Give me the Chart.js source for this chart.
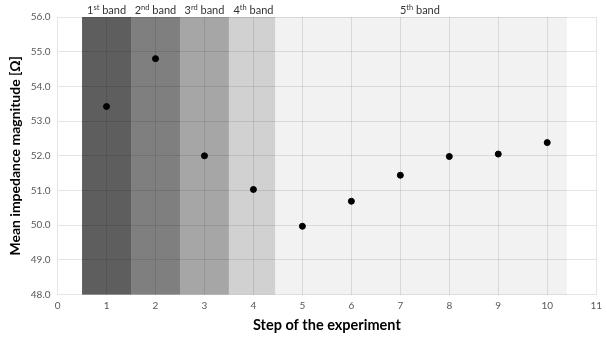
<!DOCTYPE html>
<html>
<head>
<meta charset="utf-8">
<script src="https://cdn.jsdelivr.net/npm/chart.js@4"></script>
<style>
  html, body { margin: 0; padding: 0; background: #fff; }
  #wrap { width: 607px; height: 337px; }
</style>
</head>
<body>
<div id="wrap"><canvas id="grafico" width="607" height="337"></canvas></div>
<script>
// steps and mean impedance values
const steps = [1, 2, 3, 4, 5, 6, 7, 8, 9, 10]
const impedance = [53.42, 54.8, 52.0, 51.03, 49.97, 50.69, 51.44, 51.98, 52.05, 52.38]

// shaded bands behind the points
const bandStart = [0.5, 1.5, 2.5, 3.5, 4.45]
const bandEnd = [1.5, 2.5, 3.5, 4.45, 10.4]
const bandLabelAt = [1, 2, 3, 4, 7.4]
const bandNum = ["1", "2", "3", "4", "5"]
const bandSup = ["st", "nd", "rd", "th", "th"]
const bandColors = ["#5e5e5e", "#7f7f7f", "#a6a6a6", "#d1d1d1", "#f2f2f2"]

const FONT = "Lato, 'Open Sans', sans-serif"

// bands painted before the grid, labels above the plot area
const bandas = {
    id: "bandas",
    beforeDraw(chart) {
        const ctx = chart.ctx
        const x = chart.scales.x
        const a = chart.chartArea
        ctx.save()
        for (let k = 0; k < bandStart.length; k++) {
            const x0 = x.getPixelForValue(bandStart[k])
            const x1 = x.getPixelForValue(bandEnd[k])
            ctx.fillStyle = bandColors[k]
            ctx.fillRect(x0, a.top, x1 - x0, a.bottom - a.top)
        }
        ctx.restore()
    },
    afterDraw(chart) {
        const ctx = chart.ctx
        const x = chart.scales.x
        const a = chart.chartArea
        ctx.save()
        ctx.fillStyle = "#333333"
        ctx.textBaseline = "alphabetic"
        for (let k = 0; k < bandStart.length; k++) {
            const cx = x.getPixelForValue(bandLabelAt[k])
            const big = "11px " + FONT
            const small = "7.5px " + FONT
            ctx.font = big
            const w1 = ctx.measureText(bandNum[k]).width
            const w3 = ctx.measureText(" band").width
            ctx.font = small
            const w2 = ctx.measureText(bandSup[k]).width
            let sx = cx - (w1 + w2 + w3) / 2
            const by = a.top - 3
            ctx.font = big
            ctx.fillText(bandNum[k], sx, by)
            ctx.font = small
            ctx.fillText(bandSup[k], sx + w1, by - 4)
            ctx.font = big
            ctx.fillText(" band", sx + w1 + w2, by)
        }
        ctx.restore()
    }
}

new Chart(document.getElementById("grafico"), {
    type: "scatter",
    data: {
        datasets: [{
            data: steps.map((s, i) => ({ x: s, y: impedance[i] })),
            backgroundColor: "#000000",
            borderColor: "#000000",
            pointRadius: 3,
            pointHoverRadius: 3
        }]
    },
    options: {
        responsive: false,
        animation: false,
        layout: { padding: { top: 17, right: 6, left: 7, bottom: 3 } },
        plugins: {
            legend: { display: false },
            tooltip: { enabled: false }
        },
        scales: {
            x: {
                type: "linear",
                min: 0,
                max: 11,
                ticks: { stepSize: 1, color: "#595959", font: { family: FONT, size: 10 }, padding: 5 },
                grid: { color: "rgba(0,0,0,0.1)", drawTicks: false },
                border: { display: false },
                title: { display: true, text: "Step of the experiment", color: "#000", font: { family: FONT, size: 14.5, weight: "bold" }, padding: { top: 0, bottom: 0 } }
            },
            y: {
                min: 48,
                max: 56,
                ticks: { stepSize: 1, color: "#595959", font: { family: FONT, size: 10 }, padding: 7, callback: v => v.toFixed(1) },
                grid: { color: "rgba(0,0,0,0.1)", drawTicks: false },
                border: { display: false },
                title: { display: true, text: "Mean impedance magnitude [Ω]", color: "#000", font: { family: FONT, size: 14, weight: "bold" }, padding: { top: 0, bottom: 0 } }
            }
        }
    },
    plugins: [bandas]
})
</script>
</body>
</html>
